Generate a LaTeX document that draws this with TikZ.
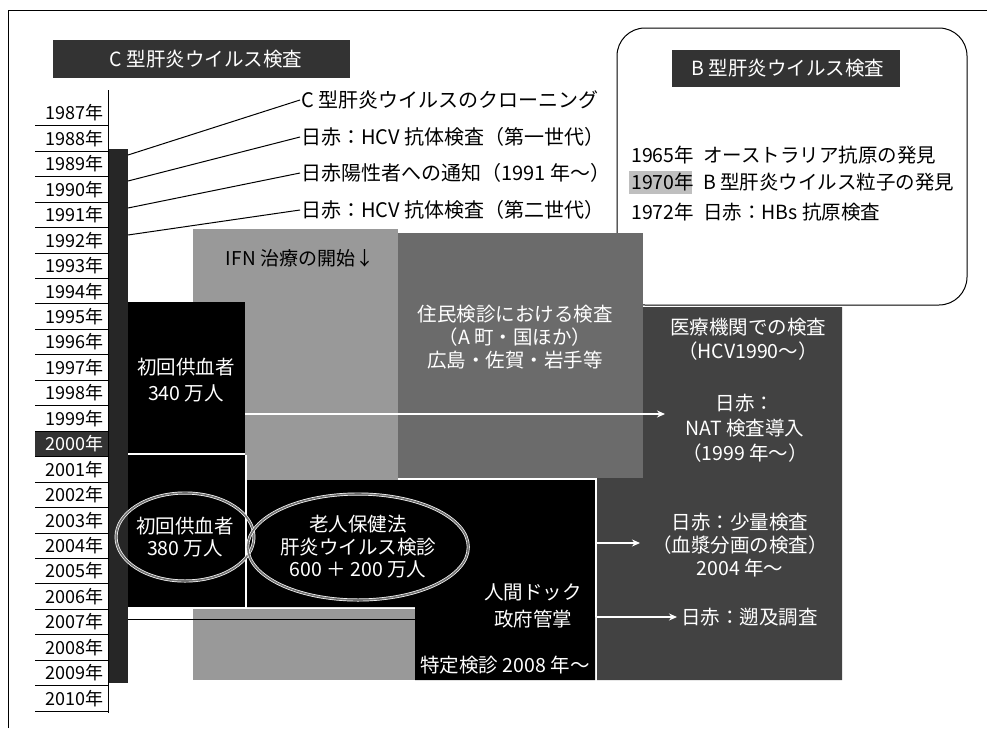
\documentclass[tikz,border=0pt]{standalone}
\usepackage{fontspec}
\setmainfont{Noto Sans CJK JP}
\usetikzlibrary{arrows.meta,shapes.geometric}
\tikzset{
  lightreg/.style={fill=black!40},
  medreg/.style={fill=black!58},
  darkreg/.style={fill=black!74},
  wtxt/.style={text=white, inner sep=1pt, align=center},
  btxt/.style={text=black, inner sep=1pt, align=center},
  yrlabel/.style={anchor=east, inner sep=1pt, font=\fontsize{18}{20}\selectfont},
  warrow/.style={draw=white, line width=1.5pt, -{Stealth[length=8pt,width=7pt]}},
  oval/.style={ellipse, draw=white, double=black!55, double distance=1.6pt, line width=0.7pt, align=center, text=white, inner sep=0pt},
  leader/.style={line width=1pt},
  titlebox/.style={fill=black!80},
}
\begin{document}
\begin{tikzpicture}[x=1pt,y=-1pt, font=\fontsize{19.5}{22}\selectfont]
\useasboundingbox (0,0) rectangle (987,728);
\fill[white] (0,0) rectangle (987,728);
% frame
\draw[line width=0.8pt] (8,728) -- (8,10) -- (987,10);

% C title
\fill[titlebox] (53,40) rectangle (350,78);
\node[wtxt] (ctitle) at (206,59) {C 型肝炎ウイルス検査};

% B box
\draw[line width=1pt, fill=white, rounded corners=28pt] (617,28) rectangle (967,305);
\fill[titlebox] (672,50) rectangle (900,87);
\node[wtxt] (btitle) at (788,68) {B 型肝炎ウイルス検査};
\fill[black!25] (629,171) rectangle (692,194);
\node[btxt, anchor=west] (b1y) at (630,155) {1965年};
\node[btxt, anchor=west] (b1t) at (702,155) {オーストラリア抗原の発見};
\node[btxt, anchor=west] (b2y) at (630,182) {1970年};
\node[btxt, anchor=west] (b2t) at (702,182) {B 型肝炎ウイルス粒子の発見};
\node[btxt, anchor=west] (b3y) at (630,212) {1972年};
\node[btxt, anchor=west] (b3t) at (702,212) {日赤：HBs 抗原検査};

% shaded regions
\fill[lightreg] (193,229) rectangle (398,480);
\fill[medreg] (398,233) rectangle (643,478);
\fill[darkreg] (643,307) -- (842,307) -- (842,680) -- (597,680) -- (597,478) -- (643,478) -- cycle;
\fill[lightreg] (193,609) rectangle (415,680);

% black blocks
\fill[black] (127,302) rectangle (245,607);
\draw[white, line width=2pt] (127,453.5) -- (245,453.5);
\fill[black] (247,480) -- (595,480) -- (595,680) -- (415,680) -- (415,607) -- (247,607) -- cycle;
\draw[white, line width=1.5pt] (246,455) -- (246,607);
\draw[white, line width=1.5pt] (596,480) -- (596,617);
\draw[line width=1pt] (127,619) -- (415,619);

% vertical bar
\fill[black!85] (108,149) rectangle (128,683);

% year axis
\draw[line width=0.8pt] (108,90) -- (108,713);
\fill[black!80] (35,431.3) rectangle (108,456.8);
\foreach \yr [count=\i from 0] in {1987,...,2010} {
  \pgfmathsetmacro\yy{113+25.45*\i}
  \ifnum\yr=2000 \def\yc{white}\else\def\yc{black}\fi
  \node[yrlabel, text=\yc] (y\yr) at (105,\yy) {\yr{}年};
  \draw[line width=0.8pt] (35,\yy+12.7) -- (108,\yy+12.7);
}

% leader lines
\node[btxt, anchor=west, font=\fontsize{20}{22}\selectfont] (t1) at (300,100) {C 型肝炎ウイルスのクローニング};
\node[btxt, anchor=west, font=\fontsize{20}{22}\selectfont] (t2) at (300,137) {日赤：HCV 抗体検査（第一世代）};
\node[btxt, anchor=west, font=\fontsize{20}{22}\selectfont] (t3) at (300,173) {日赤陽性者への通知（1991 年～）};
\node[btxt, anchor=west, font=\fontsize{20}{22}\selectfont] (t4) at (300,210) {日赤：HCV 抗体検査（第二世代）};
\coordinate (l1) at (128,155);
\coordinate (l2) at (128,181);
\coordinate (l3) at (128,208);
\coordinate (l4) at (128,235);
\draw[leader] (l1) -- (t1.west);
\draw[leader] (l2) -- (t2.west);
\draw[leader] (l3) -- (t3.west);
\draw[leader] (l4) -- (t4.west);

% arrows
\coordinate (a1s) at (245,414);
\coordinate (a1e) at (665,414);
\coordinate (a2s) at (596,543);
\coordinate (a2e) at (640,543);
\coordinate (a3s) at (596,617);
\coordinate (a3e) at (677,617);
\draw[warrow] (a1s) -- (a1e);
\draw[warrow] (a2s) -- (a2e);
\draw[warrow] (a3s) -- (a3e);

% texts
\node[btxt, font=\fontsize{19}{20}\selectfont] (ifn) at (300,258) {IFN 治療の開始↓};
\node[wtxt, font=\fontsize{19.5}{26}\selectfont] (don1) at (186,380) {初回供血者\\340 万人};
\node[oval, minimum width=124pt, minimum height=88pt, font=\fontsize{19.5}{22}\selectfont] (don2) at (185,537) {初回供血者\\380 万人};
\node[oval, minimum width=190pt, minimum height=106pt, font=\fontsize{19.5}{22.5}\selectfont] (rojin) at (358,547) {老人保健法\\肝炎ウイルス検診\\600 ＋ 200 万人};
\node[wtxt, font=\fontsize{19.5}{27}\selectfont] (dock) at (533,606) {人間ドック\\政府管掌};
\node[wtxt] (tokutei) at (505,665) {特定検診 2008 年～};
\node[wtxt, font=\fontsize{19.5}{23}\selectfont] (jumin) at (515,337) {住民検診における検査\\（A 町・国ほか）\\広島・佐賀・岩手等};
\node[wtxt, font=\fontsize{19.5}{24}\selectfont] (iryo) at (748,339) {医療機関での検査\\（HCV1990～）};
\node[wtxt, font=\fontsize{19.5}{25}\selectfont] (nat) at (745,428) {日赤：\\NAT 検査導入\\（1999 年～）};
\node[wtxt, font=\fontsize{19.5}{23}\selectfont] (shoryo) at (740,545) {日赤：少量検査\\（血漿分画の検査）\\2004 年～};
\node[wtxt, anchor=west] (sokyu) at (680,617) {日赤：遡及調査};
\end{tikzpicture}
\end{document}
